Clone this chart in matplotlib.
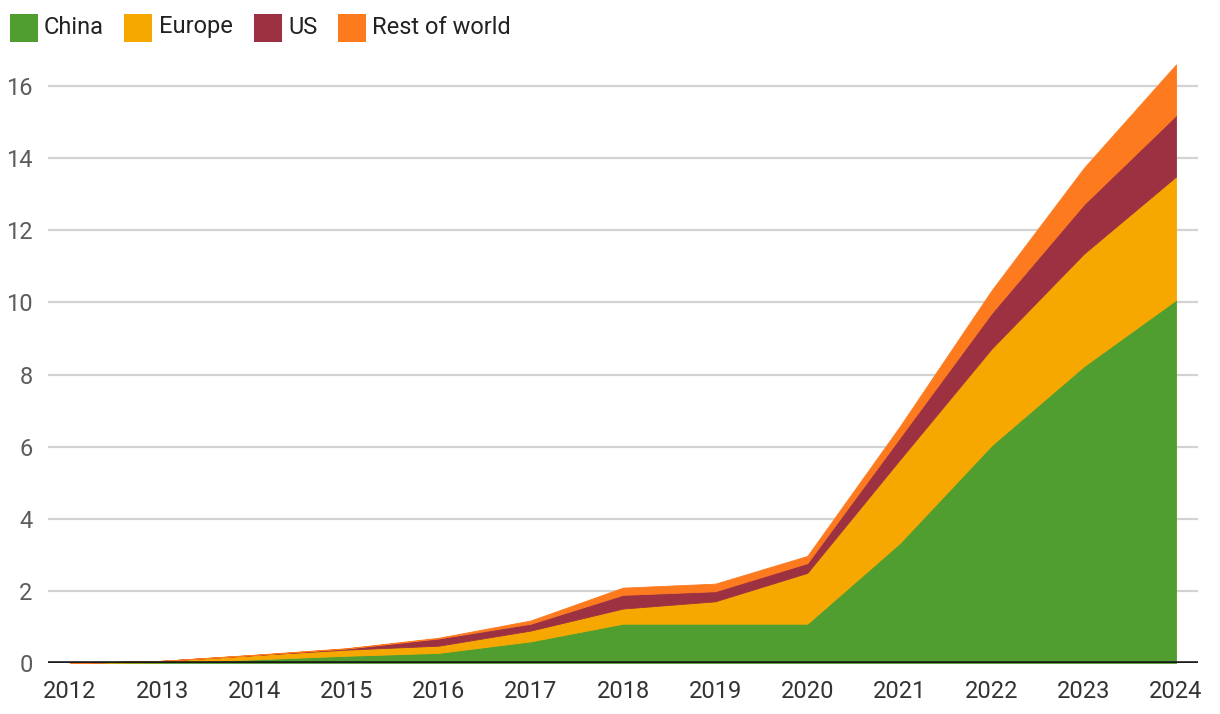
import matplotlib
matplotlib.use("Agg")
import matplotlib.pyplot as plt
from matplotlib.patches import Rectangle

plt.rcParams['font.family'] = ['Roboto', 'DejaVu Sans']

years = [2012, 2013, 2014, 2015, 2016, 2017, 2018, 2019, 2020, 2021, 2022, 2023, 2024]
china = [0, 0.02, 0.10, 0.20, 0.28, 0.60, 1.09, 1.09, 1.09, 3.32, 6.04, 8.23, 10.07]
europe = [0, 0.04, 0.12, 0.17, 0.20, 0.30, 0.42, 0.62, 1.41, 2.31, 2.68, 3.12, 3.42]
us = [0, 0, 0, 0.03, 0.20, 0.19, 0.38, 0.28, 0.27, 0.61, 0.99, 1.37, 1.70]
rest_of_world = [0, 0, 0.01, 0.01, 0.02, 0.09, 0.20, 0.21, 0.20, 0.31, 0.63, 1.01, 1.41]

series_names = ["China", "Europe", "US", "Rest of world"]
colors = ["#509e2f", "#f7a800", "#9c3241", "#fe7a1e"]
y_ticks = [0, 2, 4, 6, 8, 10, 12, 14, 16]

W, H = 1220, 714
fig = plt.figure(figsize=(W / 100, H / 100), dpi=100)

left_px, right_px = 48, 1198
base_px = 663
ymax = 17.0
px_per_unit = 36.06
top_px = base_px - ymax * px_per_unit
ax = fig.add_axes([left_px / W, 1 - base_px / H, (right_px - left_px) / W, (base_px - top_px) / H])

ax.stackplot(years, china, europe, us, rest_of_world, colors=colors,
             linewidth=0.6, edgecolor='face', zorder=3)

pad = 22 / ((1178 - 70) / 12)
ax.set_xlim(2012 - pad, 2024 + pad)
ax.set_ylim(0, ymax)

ax.set_yticks(y_ticks)
ax.set_yticklabels([str(t) for t in y_ticks])
ax.set_xticks(years)
ax.set_xticklabels([str(y) for y in years])

for t in y_ticks[1:]:
    ax.axhline(t, color="#d3d3d3", linewidth=1.6, zorder=1)
ax.axhline(0, color="#1a1a1a", linewidth=2.6, zorder=5)

for s in ax.spines.values():
    s.set_visible(False)
ax.tick_params(axis='y', length=0, pad=11, labelsize=17, labelcolor="#5c5c5c")
ax.tick_params(axis='x', length=0, pad=12, labelsize=17, labelcolor="#333333")
ax.set_facecolor("white")

# legend
sq_x = [10, 124, 254, 338]
txt_x = [44, 159, 288, 372]
for name, c, sx, tx in zip(series_names, colors, sq_x, txt_x):
    fig.patches.append(Rectangle((sx / W, 1 - 42 / H), 28 / W, 28 / H,
                                 transform=fig.transFigure, facecolor=c, edgecolor='none'))
    fig.text(tx / W, 1 - 27 / H, name, fontsize=17, color="#222222",
             va='center', ha='left')

fig.savefig("out.png", dpi=100, facecolor="white")
